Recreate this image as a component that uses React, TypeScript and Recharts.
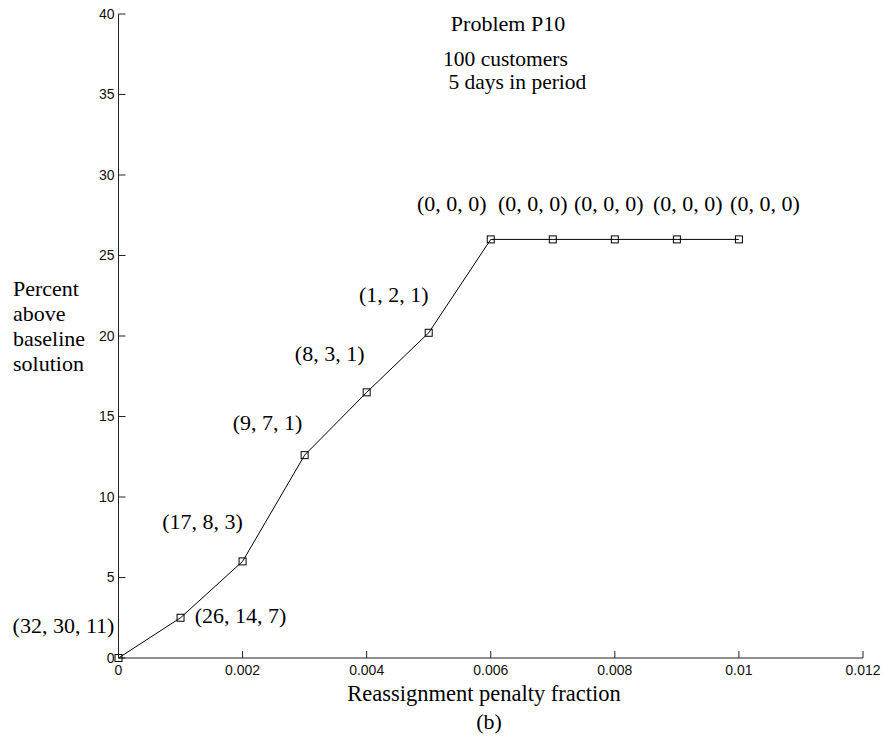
import React from "react";
import { LineChart, Line, XAxis, YAxis, LabelList } from "recharts";

// Reassignment penalty fraction (x) against percent above the baseline solution (y)
const penalty = [0, 0.001, 0.002, 0.003, 0.004, 0.005, 0.006, 0.007, 0.008, 0.009, 0.01];
const percentAbove = [0, 2.5, 6.0, 12.6, 16.5, 20.2, 26, 26, 26, 26, 26];
const reassignments = [
  "(32, 30, 11)",
  "(26, 14, 7)",
  "(17, 8, 3)",
  "(9, 7, 1)",
  "(8, 3, 1)",
  "(1, 2, 1)",
  "(0, 0, 0)",
  "(0, 0, 0)",
  "(0, 0, 0)",
  "(0, 0, 0)",
  "(0, 0, 0)",
];
const xTicks = [0, 0.002, 0.004, 0.006, 0.008, 0.01, 0.012];
const yTicks = [0, 5, 10, 15, 20, 25, 30, 35, 40];

const titleLines = ["Problem P10", "100 customers", " 5 days in period"];
const yLabelLines = ["Percent", "above", "baseline", "solution"];
const xLabel = "Reassignment penalty fraction";
const caption = "(b)";

// Pixel offsets of each point's annotation (text centre relative to the marker)
const labelOffsets: [number, number][] = [
  [-55, -31],
  [60, -1],
  [-40, -38],
  [-37, -31],
  [-37, -37],
  [-35, -37],
  [-39, -34],
  [-20, -34],
  [-6, -34],
  [11, -34],
  [26, -34],
];

const data = penalty.map((p, i) => ({
  penalty: p,
  percent: percentAbove[i],
  counts: reassignments[i],
}));

const SERIF = "'Liberation Serif', 'Times New Roman', serif";
const SANS = "'Liberation Sans', Arial, sans-serif";

const SquareDot = (props: any) => {
  const { cx, cy, index } = props;
  return (
    <rect
      key={`sq-${index}`}
      x={cx - 3.5}
      y={cy - 3.5}
      width={7}
      height={7}
      fill="none"
      stroke="#000"
      strokeWidth={1}
    />
  );
};

const PointLabel = (props: any) => {
  const { x, y, index, value } = props;
  const [dx, dy] = labelOffsets[index] || [0, -30];
  return (
    <text
      x={x + dx}
      y={y + dy + 6}
      textAnchor="middle"
      fontFamily={SERIF}
      fontSize={22}
      fill="#000"
    >
      {value}
    </text>
  );
};

const fmtX = (v: number) => String(v);

export default function App() {
  return (
    <div style={{ position: "absolute", left: 0, top: 0, width: 885, height: 738, background: "#fff" }}>
      <LineChart
        width={885}
        height={738}
        data={data}
        margin={{ top: 14, right: 22, bottom: 50, left: 58.5 }}
      >
        <XAxis
          dataKey="penalty"
          type="number"
          domain={[0, 0.012]}
          ticks={xTicks}
          interval={0}
          tickFormatter={fmtX}
          height={30}
          tickSize={-7}
          tickMargin={14}
          axisLine={{ stroke: "#222", strokeWidth: 1 }}
          tickLine={{ stroke: "#222", strokeWidth: 1 }}
          tick={{ fontFamily: SANS, fontSize: 14, fill: "#111" }}
        />
        <YAxis
          type="number"
          domain={[0, 40]}
          ticks={yTicks}
          interval={0}
          width={60}
          tickSize={-7}
          tickMargin={11}
          axisLine={{ stroke: "#222", strokeWidth: 1 }}
          tickLine={{ stroke: "#222", strokeWidth: 1 }}
          tick={{ fontFamily: SANS, fontSize: 14, fill: "#111" }}
        />
        <Line
          type="linear"
          dataKey="percent"
          stroke="#000"
          strokeWidth={1}
          dot={SquareDot}
          activeDot={false}
          isAnimationActive={false}
        >
          <LabelList dataKey="counts" content={PointLabel} />
        </Line>
      </LineChart>
      <svg
        width={885}
        height={738}
        style={{ position: "absolute", left: 0, top: 0, pointerEvents: "none" }}
        fontFamily={SERIF}
        fontSize={22}
        fill="#000"
      >
        <text x={508} y={31} textAnchor="middle">{titleLines[0]}</text>
        <text x={443} y={66} fontSize={21.5} style={{ whiteSpace: "pre" }}>{titleLines[1]}</text>
        <text x={443} y={89} fontSize={21.5} style={{ whiteSpace: "pre" }}>{titleLines[2]}</text>
        {yLabelLines.map((line, i) => (
          <text key={line} x={13} y={296 + i * 25}>{line}</text>
        ))}
        <text x={484} y={701} textAnchor="middle" fontSize={22.5}>{xLabel}</text>
        <text x={489} y={729} textAnchor="middle">{caption}</text>
      </svg>
    </div>
  );
}
